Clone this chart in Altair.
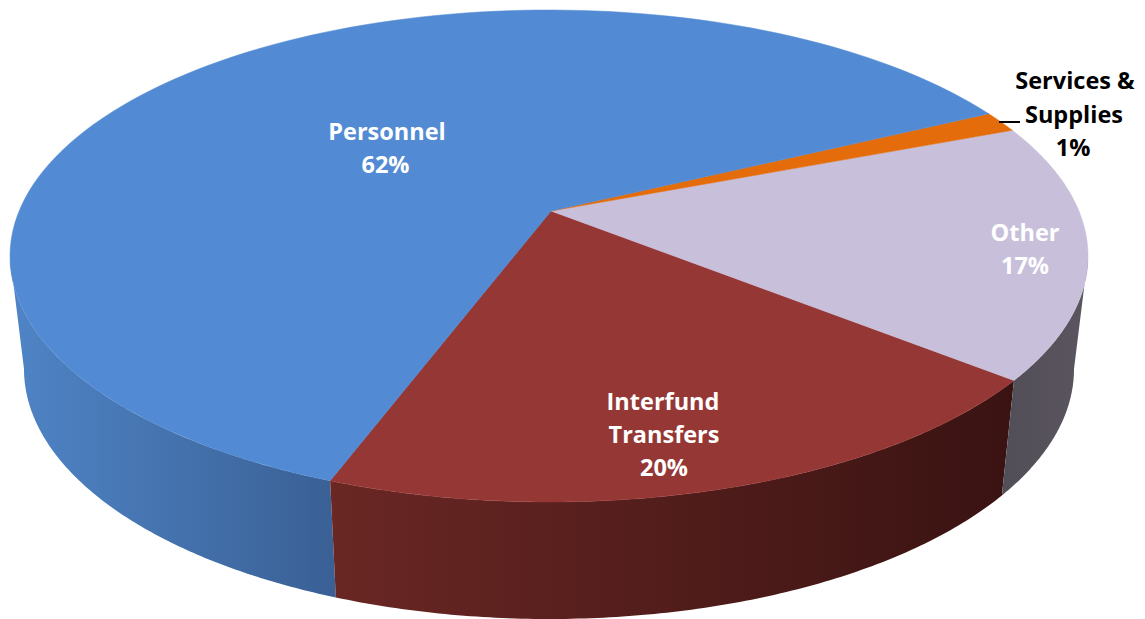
import math
import altair as alt

# ---- chart values (shares in percent, counter-clockwise from the Personnel/Interfund edge)
categories = ["Interfund Transfers", "Other", "Services & Supplies", "Personnel"]
shares = [19.7, 16.75, 1.39, 62.16]
start_angle = -110.0

# ---- view geometry
W0, H0, W1, H1 = 8, 8, 1137, 619
TOP = dict(cx=549, cy=256, rx=539, ry=246)
BOTTOM = dict(cx=549, cy=369, rx=525, ry=250)
APEX = (551, 211)
tilt = (256 - 211) / 246

top_fill = {"Interfund Transfers": "#953735", "Other": "#c8bfda",
            "Services & Supplies": "#e46c0a", "Personnel": "#528ad3"}


def grad(a, b):
    return alt.Gradient(gradient="linear", x1=0, x2=1, y1=0, y2=0,
                        stops=[alt.GradientStop(color=a, offset=0),
                               alt.GradientStop(color=b, offset=1)])


side_fill = {"Personnel": grad("#4f84c6", "#3a6095"),
             "Interfund Transfers": grad("#6a2724", "#391312"),
             "Other": grad("#524e57", "#5a555e")}


def ellipse_t(theta_deg):
    """true pie angle -> parameter on the tilted rim (perspective moves the apex)."""
    th = math.radians(theta_deg)
    x, y = math.cos(th), math.sin(th)
    d = 1 + tilt * y
    return math.atan2((y + tilt) / d, x * math.sqrt(1 - tilt * tilt) / d)


def rim(e, t):
    return [e["cx"] + e["rx"] * math.cos(t), e["cy"] - e["ry"] * math.sin(t)]


def feature(ring):
    return {"type": "Feature", "properties": {},
            "geometry": {"type": "Polygon", "coordinates": [ring + [ring[0]]]}}


def shape(ring, **style):
    return alt.Chart(alt.Data(values=[feature(ring)])).mark_geoshape(**style)


def sweep(a, b, n=120):
    return [a + (b - a) * i / n for i in range(n + 1)]


# slice edges
edges = [start_angle]
for s in shares:
    edges.append(edges[-1] + s * 3.6)
t_edge = [ellipse_t(e) for e in edges]


def side(t0, t1, fill):
    ts = sweep(t0, t1)
    ring = [rim(TOP, t) for t in ts] + [rim(BOTTOM, t) for t in reversed(ts)]
    return shape(ring, fill=fill, stroke=None)


layers = [shape([[W0, H0], [W1, H0], [W1, H1], [W0, H1]], fill="#ffffff", fillOpacity=0, stroke=None)]
layers.append(side(-math.pi, t_edge[0], side_fill["Personnel"]))
layers.append(side(t_edge[0], t_edge[1], side_fill["Interfund Transfers"]))
layers.append(side(t_edge[1], 0, side_fill["Other"]))

for i, name in enumerate(categories):
    ring = [list(APEX)] + [rim(TOP, ellipse_t(a)) for a in sweep(edges[i], edges[i + 1])]
    layers.append(shape(ring, fill=top_fill[name], stroke=top_fill[name], strokeWidth=0.5))

# ---- labels
x_scale = alt.Scale(domain=[W0, W1], nice=False, zero=False)
y_scale = alt.Scale(domain=[H1, H0], nice=False, zero=False)
white_lines = [
    {"t": "Personnel", "x": 387, "y": 132.5}, {"t": "62%", "x": 385.5, "y": 165.5},
    {"t": "Interfund", "x": 663, "y": 402.5}, {"t": "Transfers", "x": 664, "y": 435.5},
    {"t": "20%", "x": 664, "y": 468.5},
    {"t": "Other", "x": 1025, "y": 233.5}, {"t": "17%", "x": 1025, "y": 266.5},
]
black_lines = [
    {"t": "Services &", "x": 1075, "y": 81.5}, {"t": "Supplies", "x": 1074, "y": 115.5},
    {"t": "1%", "x": 1073, "y": 148.5},
]


def text(rows, color):
    return alt.Chart(alt.Data(values=rows)).mark_text(
        font="Open Sans", fontWeight="bold", fontSize=23.5, color=color, baseline="middle", align="center"
    ).encode(x=alt.X("x:Q", scale=x_scale, axis=None), y=alt.Y("y:Q", scale=y_scale, axis=None), text="t:N")


leader = alt.Chart(alt.Data(values=[{"x": 999, "x2": 1020, "y": 122}])).mark_rule(
    color="#000000", strokeWidth=2
).encode(x=alt.X("x:Q", scale=x_scale, axis=None), x2="x2:Q", y=alt.Y("y:Q", scale=y_scale, axis=None))

layers += [leader, text(white_lines, "#ffffff"), text(black_lines, "#000000")]

chart = alt.layer(*layers).properties(
    width=W1 - W0, height=H1 - H0, padding=0,
    projection=alt.Projection(type="identity"),
    background="#ffffff",
).configure_view(stroke=None)

chart.save("out.html", embed_options={"renderer": "svg", "actions": False})
